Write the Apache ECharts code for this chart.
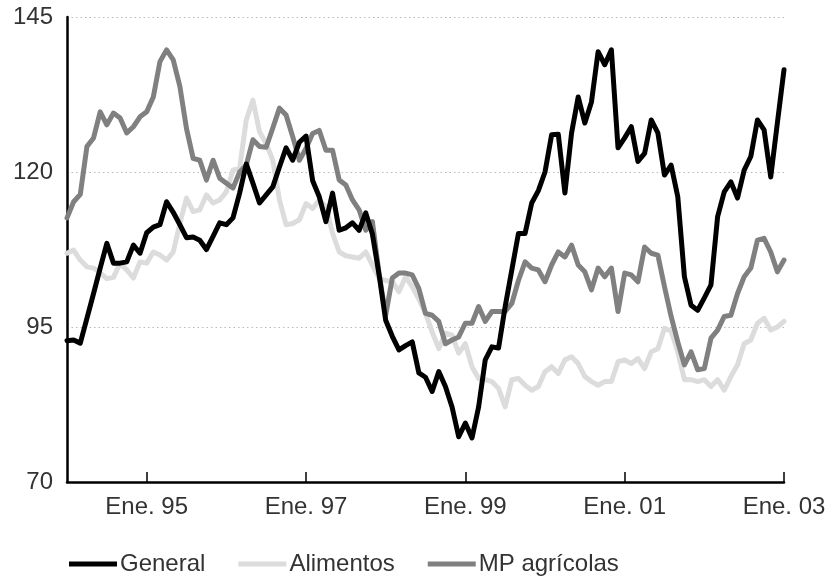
<!DOCTYPE html>
<html>
<head>
<meta charset="utf-8">
<script src="https://cdn.jsdelivr.net/npm/echarts@6/dist/echarts.min.js"></script>
<style>
html,body{margin:0;padding:0;background:#fff;}
#chart{width:837px;height:577px;}
</style>
</head>
<body>
<div id="chart"></div>
<script>
// Monthly categories: Jan 1994 .. Jan 2003
const monthNames = ['Ene','Feb','Mar','Abr','May','Jun','Jul','Ago','Sep','Oct','Nov','Dic'];
const years = ['94','95','96','97','98','99','00','01','02','03'];
const categories = [];
for (const y of years) {
  for (const m of monthNames) {
    if (y === '03' && m !== 'Ene') break;
    categories.push(m + '. ' + y);
  }
}
const tickLabels = ['Ene. 95','Ene. 97','Ene. 99','Ene. 01','Ene. 03'];
const yTicks = [70, 95, 120, 145];

const general = [
92.8,92.9,92.4,96.4,100.4,104.5,108.5,105.3,105.3,105.5,108.2,106.9,
110.2,111.1,111.5,115.2,113.5,111.5,109.4,109.5,109.0,107.5,109.6,111.8,
111.5,112.6,116.6,121.3,118.2,115.0,116.3,117.6,120.8,123.9,121.9,124.8,
125.8,118.6,116.0,112.0,116.6,110.6,111.0,111.8,110.6,113.4,110.0,103.5,
96.1,93.5,91.3,92.0,92.6,87.6,86.9,84.6,87.8,85.4,82.1,77.3,
79.5,77.1,82.1,89.7,91.8,91.6,98.3,104.2,110.1,110.1,115.0,117.0,
120.0,126.0,126.1,116.6,126.3,132.1,127.9,131.3,139.4,137.3,139.7,123.9,
125.5,127.3,121.7,123.0,128.4,126.3,119.5,121.1,116.0,103.1,98.5,97.7,
99.7,101.8,112.8,116.8,118.4,115.8,120.3,122.5,128.4,126.8,119.2,127.9,
136.5
];
const alimentos = [
106.9,107.4,105.8,104.7,104.5,103.7,102.8,103.0,105.3,104.2,102.9,105.5,
105.3,107.1,106.6,105.8,107.1,111.7,115.8,113.6,113.9,116.3,115.0,115.5,
116.8,120.3,120.6,128.4,131.6,126.5,124.6,121.9,115.5,111.5,111.7,112.3,
114.9,114.1,115.5,114.4,110.1,107.1,106.5,106.3,106.1,107.1,105.0,102.9,
102.5,102.3,100.7,103.1,101.5,99.5,97.2,94.2,91.5,94.0,93.7,90.8,
92.3,88.6,86.7,86.5,86.2,85.1,82.1,86.5,86.7,85.6,84.8,85.4,
87.8,88.6,87.5,89.7,90.2,89.1,87.0,86.2,85.6,86.2,86.2,89.4,
89.7,89.1,89.9,88.3,91.0,91.5,94.8,94.3,91.0,86.5,86.5,86.2,
86.5,85.4,86.5,84.8,87.0,88.9,92.3,92.9,95.6,96.4,94.5,95.0,
95.9
];
const mpAgricolas = [
112.6,115.2,116.4,124.1,125.5,129.7,127.6,129.5,128.7,126.3,127.3,128.9,
129.7,132.1,137.8,139.7,138.1,133.8,127.0,122.2,121.9,118.7,121.9,119.0,
118.2,117.4,120.0,121.1,125.2,124.1,124.0,127.1,130.3,129.2,125.7,121.9,
123.8,126.2,126.7,123.5,123.5,118.7,117.9,115.5,113.9,110.6,112.0,103.7,
96.9,102.9,103.7,103.7,103.4,101.2,97.2,96.9,95.9,92.3,92.9,93.4,
95.6,95.6,98.3,95.9,97.5,97.5,97.5,98.8,102.5,105.5,104.5,104.2,
102.3,105.0,107.1,106.3,108.2,105.0,103.9,101.0,104.5,103.1,104.5,97.5,
103.7,103.4,102.3,107.9,106.9,106.6,101.5,96.7,92.6,88.9,91.0,88.1,
88.3,93.2,94.5,96.7,96.9,100.4,103.1,104.5,109.0,109.3,107.1,103.9,
105.8
];

const FONT = '"Liberation Sans", Arial, sans-serif';
const showTick = (idx, val) => tickLabels.indexOf(val) >= 0;

const chart = echarts.init(document.getElementById('chart'), null, {renderer: 'canvas'});
function mkLine(name, data, color, z) {
  return {
    name: name, type: 'line', data: data, z: z,
    showSymbol: false, symbol: 'none', smooth: false,
    lineStyle: {color: color, width: 5, cap: 'round', join: 'round'},
    itemStyle: {color: color},
    emphasis: {disabled: true}
  };
}
chart.setOption({
  animation: false,
  backgroundColor: '#fff',
  grid: {left: 67, right: 53, top: 17, bottom: 95, containLabel: false},
  legend: {
    data: ['General', 'Alimentos', 'MP agrícolas'],
    left: 64, top: 547,
    icon: 'rect', itemWidth: 48, itemHeight: 5, itemGap: 33,
    textStyle: {fontFamily: FONT, fontSize: 24, color: '#333', padding: [0, 0, 0, -2]}
  },
  xAxis: {
    type: 'category', data: categories, boundaryGap: false,
    axisLine: {show: true, lineStyle: {color: '#000', width: 2.5}},
    axisTick: {show: true, inside: true, length: 10, interval: showTick, lineStyle: {color: '#000', width: 1.5}},
    axisLabel: {interval: showTick, fontFamily: FONT, fontSize: 24, color: '#333', margin: 13, hideOverlap: false, showMaxLabel: true},
    splitLine: {show: false}
  },
  yAxis: {
    type: 'value', min: 70, max: 145, interval: 25,
    axisLine: {show: true, lineStyle: {color: '#000', width: 2.5}},
    axisTick: {show: false},
    axisLabel: {fontFamily: FONT, fontSize: 24, color: '#333', margin: 14,
      formatter: v => yTicks.indexOf(v) >= 0 ? String(v) : ''},
    splitLine: {show: true, lineStyle: {color: '#bbb', width: 1, type: [1.5, 3]}}
  },
  series: [
    mkLine('Alimentos', alimentos, '#dcdcdc', 2),
    mkLine('MP agrícolas', mpAgricolas, '#808080', 3),
    mkLine('General', general, '#000000', 4)
  ]
});
</script>
</body>
</html>
